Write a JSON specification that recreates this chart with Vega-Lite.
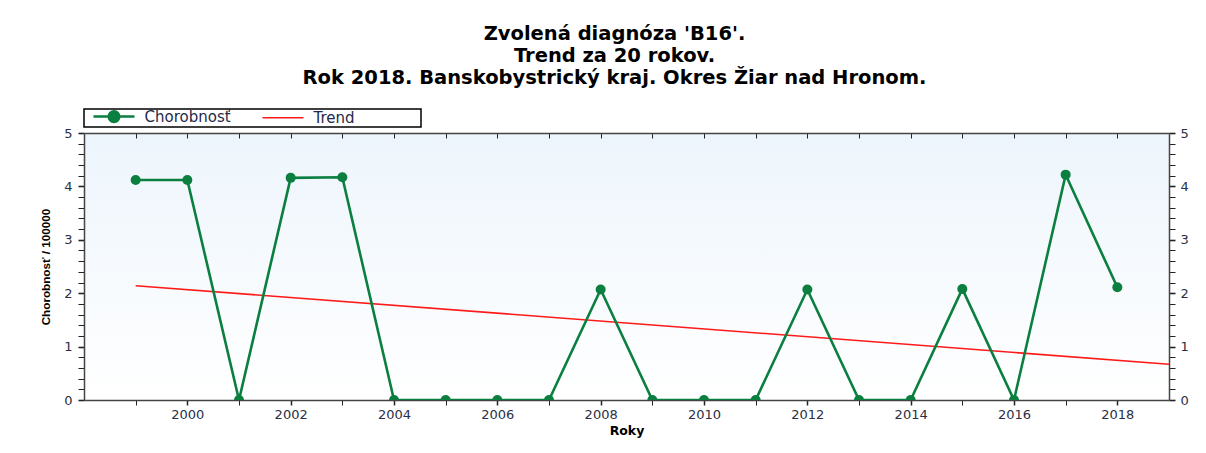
{
  "$schema": "https://vega.github.io/schema/vega-lite/v6.json",
  "width": 1085,
  "height": 267,
  "autosize": {"type": "none"},
  "padding": {"left": 84, "top": 133, "right": 37, "bottom": 53},
  "background": "white",
  "title": {
    "text": ["Zvolená diagnóza 'B16'.", "Trend za 20 rokov.", "Rok 2018. Banskobystrický kraj. Okres Žiar nad Hronom."],
    "font": "DejaVu Sans",
    "fontSize": 19.5,
    "fontWeight": "bold",
    "color": "black",
    "lineHeight": 22,
    "anchor": "middle",
    "dx": -12,
    "offset": 20
  },
  "datasets": {
    "chorobnost": [
      {"rok": 1999, "hodnota": 4.12, "seria": "Chorobnosť"},
      {"rok": 2000, "hodnota": 4.12, "seria": "Chorobnosť"},
      {"rok": 2001, "hodnota": 0, "seria": "Chorobnosť"},
      {"rok": 2002, "hodnota": 4.16, "seria": "Chorobnosť"},
      {"rok": 2003, "hodnota": 4.17, "seria": "Chorobnosť"},
      {"rok": 2004, "hodnota": 0, "seria": "Chorobnosť"},
      {"rok": 2005, "hodnota": 0, "seria": "Chorobnosť"},
      {"rok": 2006, "hodnota": 0, "seria": "Chorobnosť"},
      {"rok": 2007, "hodnota": 0, "seria": "Chorobnosť"},
      {"rok": 2008, "hodnota": 2.07, "seria": "Chorobnosť"},
      {"rok": 2009, "hodnota": 0, "seria": "Chorobnosť"},
      {"rok": 2010, "hodnota": 0, "seria": "Chorobnosť"},
      {"rok": 2011, "hodnota": 0, "seria": "Chorobnosť"},
      {"rok": 2012, "hodnota": 2.07, "seria": "Chorobnosť"},
      {"rok": 2013, "hodnota": 0, "seria": "Chorobnosť"},
      {"rok": 2014, "hodnota": 0, "seria": "Chorobnosť"},
      {"rok": 2015, "hodnota": 2.08, "seria": "Chorobnosť"},
      {"rok": 2016, "hodnota": 0, "seria": "Chorobnosť"},
      {"rok": 2017, "hodnota": 4.22, "seria": "Chorobnosť"},
      {"rok": 2018, "hodnota": 2.11, "seria": "Chorobnosť"}
    ],
    "trend": [
      {"rok": 1999, "hodnota": 2.14, "seria": "Trend"},
      {"rok": 2019, "hodnota": 0.67, "seria": "Trend"}
    ]
  },
  "resolve": {
    "scale": {"x": "shared", "y": "shared", "color": "shared"},
    "axis": {"x": "independent", "y": "independent"}
  },
  "layer": [
    {
      "data": {"name": "trend"},
      "mark": {"type": "line", "strokeWidth": 1.6, "clip": true},
      "encoding": {
        "x": {
          "field": "rok", "type": "quantitative",
          "scale": {"domain": [1998, 2019], "nice": false, "zero": false},
          "axis": {
            "orient": "bottom",
            "title": "Roky",
            "titleFont": "DejaVu Sans",
            "titleFontSize": 12.5,
            "values": [1999, 2000, 2001, 2002, 2003, 2004, 2005, 2006, 2007, 2008, 2009, 2010, 2011, 2012, 2013, 2014, 2015, 2016, 2017, 2018],
            "labelExpr": "datum.value % 2 === 0 ? '' + datum.value : ''",
            "tickSize": 5,
            "tickWidth": {"condition": {"test": "datum.value % 2 === 0", "value": 1.5}, "value": 1},
            "labelPadding": 3,
            "titlePadding": 3
          }
        },
        "y": {
          "field": "hodnota", "type": "quantitative",
          "scale": {"domain": [0, 5], "nice": false},
          "axis": {
            "orient": "left",
            "title": "Chorobnosť / 100000",
            "titleFont": "Liberation Sans",
            "titleFontSize": 11.7,
            "values": [0, 0.2, 0.4, 0.6, 0.8, 1, 1.2, 1.4, 1.6, 1.8, 2, 2.2, 2.4, 2.6, 2.8, 3, 3.2, 3.4, 3.6, 3.8, 4, 4.2, 4.4, 4.6, 4.8, 5],
            "labelExpr": "datum.value % 1 === 0 ? '' + datum.value : ''",
            "tickSize": 6,
            "tickWidth": {"condition": {"test": "datum.value % 1 === 0", "value": 1.6}, "value": 1},
            "labelPadding": 6,
            "titlePadding": 12
          }
        },
        "color": {
          "field": "seria", "type": "nominal",
          "scale": {"domain": ["Chorobnosť", "Trend"], "range": ["#0a7f3f", "#ff1a1a"]},
          "legend": {
            "orient": "top",
            "direction": "horizontal",
            "title": null,
            "gridAlign": "each",
            "columnPadding": 22,
            "symbolSize": 1681,
            "symbolStrokeWidth": 2,
            "symbolOffset": 22.5,
            "labelOffset": 23,
            "labelExpr": "datum.label === 'Trend' ? datum.label + '\u2800\u2800\u2800\u2800\u2800\u2800' : datum.label",
            "encode": {
              "symbols": {
                "update": {
                  "shape": {"signal": "datum.value === 'Trend' ? 'stroke' : 'M-1,0H1M-0.26,0A0.26,0.26,0,1,1,0.26,0A0.26,0.26,0,1,1,-0.26,0Z'"},
                  "fill": {"signal": "datum.value === 'Trend' ? 'transparent' : '#0a7f3f'"},
                  "strokeWidth": {"signal": "datum.value === 'Trend' ? 1.6 : 2.5"}
                }
              }
            }
          }
        }
      }
    },
    {
      "data": {"name": "chorobnost"},
      "mark": {"type": "line", "strokeWidth": 2.6, "clip": true, "point": {"filled": true, "size": 100, "color": "#0a7f3f"}},
      "encoding": {
        "x": {
          "field": "rok", "type": "quantitative",
          "axis": {
            "orient": "top",
            "title": null,
            "labels": false,
            "values": [1999, 2000, 2001, 2002, 2003, 2004, 2005, 2006, 2007, 2008, 2009, 2010, 2011, 2012, 2013, 2014, 2015, 2016, 2017, 2018],
            "tickSize": -5
          }
        },
        "y": {
          "field": "hodnota", "type": "quantitative",
          "axis": {
            "orient": "right",
            "title": null,
            "values": [0, 0.2, 0.4, 0.6, 0.8, 1, 1.2, 1.4, 1.6, 1.8, 2, 2.2, 2.4, 2.6, 2.8, 3, 3.2, 3.4, 3.6, 3.8, 4, 4.2, 4.4, 4.6, 4.8, 5],
            "labelExpr": "datum.value % 1 === 0 ? '' + datum.value : ''",
            "tickSize": 6,
            "tickWidth": {"condition": {"test": "datum.value % 1 === 0", "value": 1.6}, "value": 1},
            "labelPadding": 5
          }
        },
        "color": {"field": "seria", "type": "nominal"}
      }
    }
  ],
  "config": {
    "view": {
      "stroke": null,
      "fill": {"gradient": "linear", "x1": 0, "y1": 0, "x2": 0, "y2": 1, "stops": [{"offset": 0, "color": "#edf5fc"}, {"offset": 1, "color": "#ffffff"}]}
    },
    "axis": {
      "grid": false,
      "domainColor": "#444",
      "domainWidth": 1.5,
      "tickColor": "#222",
      "labelFont": "DejaVu Sans",
      "labelFontSize": 13,
      "labelColor": "#2a2f45",
      "labelOverlap": false,
      "titleFont": "Liberation Sans",
      "titleFontSize": 12,
      "titleFontWeight": "bold",
      "titleColor": "black"
    },
    "legend": {
      "strokeColor": "black",
      "fillColor": "white",
      "padding": 0,
      "offset": 5,
      "labelFont": "DejaVu Sans",
      "labelFontSize": 15,
      "labelColor": "#1f2a4a",
      "strokeWidth": 1.5
    }
  }
}
